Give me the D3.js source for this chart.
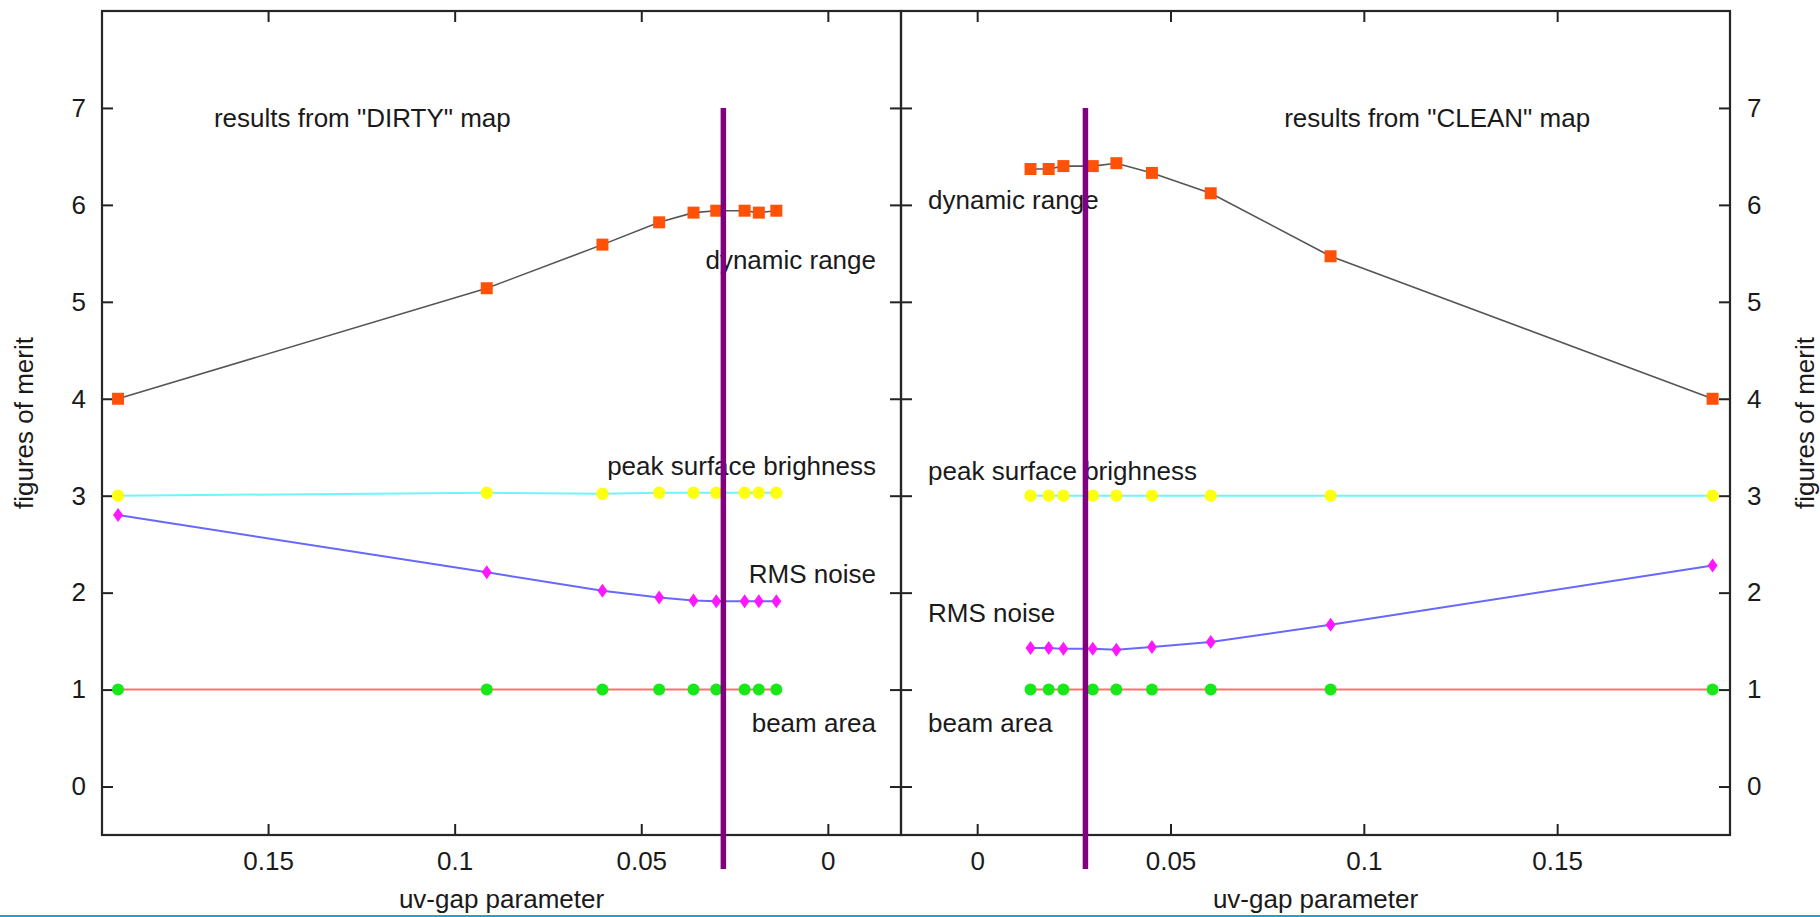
<!DOCTYPE html>
<html>
<head>
<meta charset="utf-8">
<script src="https://cdn.jsdelivr.net/npm/d3@7"></script>
<style>
  html, body { margin: 0; padding: 0; background: #fff; }
  svg { display: block; }
  text { font-family: "Liberation Sans", Arial, Helvetica, sans-serif; fill: #1a1a1a; }
</style>
</head>
<body>
<svg id="chart" width="1820" height="917"></svg>
<script>
// ---------------- data ----------------
const uvGap = [0.0138, 0.0185, 0.0223, 0.0299, 0.0360, 0.0452, 0.0604, 0.0914, 0.1902];

const dirtyDynamicRange = [5.94, 5.92, 5.94, 5.94, 5.92, 5.82, 5.59, 5.14, 4.00];
const dirtyPeakSurface  = [3.03, 3.03, 3.03, 3.03, 3.03, 3.03, 3.02, 3.03, 3.00];
const dirtyRmsNoise     = [1.91, 1.91, 1.91, 1.91, 1.92, 1.95, 2.02, 2.21, 2.80];
const dirtyBeamArea     = [1.00, 1.00, 1.00, 1.00, 1.00, 1.00, 1.00, 1.00, 1.00];

const cleanDynamicRange = [6.37, 6.37, 6.40, 6.40, 6.43, 6.33, 6.12, 5.47, 4.00];
const cleanPeakSurface  = [3.00, 3.00, 3.00, 3.00, 3.00, 3.00, 3.00, 3.00, 3.00];
const cleanRmsNoise     = [1.43, 1.43, 1.42, 1.42, 1.41, 1.44, 1.49, 1.67, 2.28];
const cleanBeamArea     = [1.00, 1.00, 1.00, 1.00, 1.00, 1.00, 1.00, 1.00, 1.00];

const xTicks = [0, 0.05, 0.1, 0.15];
const yTicks = [0, 1, 2, 3, 4, 5, 6, 7];
const yDomain = [-0.5, 8];
const cutLine = { x: 0.028, y0: 7, y1: -0.85 };

const dirtyLabels = [
  { text: 'results from "DIRTY" map', x: 0.1645, y: 6.80, anchor: "start" },
  { text: "dynamic range", x: -0.0129, y: 5.34, anchor: "end" },
  { text: "peak surface brighness", x: -0.0129, y: 3.21, anchor: "end" },
  { text: "RMS noise", x: -0.0129, y: 2.10, anchor: "end" },
  { text: "beam area", x: -0.0129, y: 0.56, anchor: "end" }
];
const cleanLabels = [
  { text: 'results from "CLEAN" map', x: 0.0794, y: 6.80, anchor: "start" },
  { text: "dynamic range", x: -0.0127, y: 5.96, anchor: "start" },
  { text: "peak surface brighness", x: -0.0127, y: 3.16, anchor: "start" },
  { text: "RMS noise", x: -0.0127, y: 1.70, anchor: "start" },
  { text: "beam area", x: -0.0127, y: 0.56, anchor: "start" }
];

// ---------------- layout ----------------
const W = 1820, H = 917;
const plotTop = 11, plotBottom = 835;
const leftX0 = 102, midX = 901, rightX1 = 1730;
const FONT = 26, TICK = 11;

const svg = d3.select("#chart");
const y = d3.scaleLinear().domain(yDomain).range([plotBottom, plotTop]);
const xDirty = d3.scaleLinear().domain([0.1945, -0.0196]).range([leftX0, midX]);
const xClean = d3.scaleLinear().domain([-0.0197, 0.1947]).range([midX, rightX1]);

const fmt = d3.format("~g");

function styleAxis(g, showLabels) {
  g.select(".domain").remove();
  g.selectAll(".tick line").attr("stroke", "#222").attr("stroke-width", 2);
  g.selectAll(".tick text")
    .style("font-size", FONT + "px")
    .style("font-family", '"Liberation Sans", Arial, sans-serif')
    .attr("fill", "#1a1a1a");
  if (!showLabels) g.selectAll(".tick text").remove();
}

function panel(x, yLabelSide) {
  const g = svg.append("g");
  const x0 = x.range()[0], x1 = x.range()[1];

  g.append("g").attr("transform", `translate(0,${plotBottom})`)
    .call(d3.axisBottom(x).tickValues(xTicks).tickFormat(fmt).tickSize(-TICK).tickPadding(16.5))
    .call(a => styleAxis(a, true));
  g.append("g").attr("transform", `translate(0,${plotTop})`)
    .call(d3.axisTop(x).tickValues(xTicks).tickSize(-TICK))
    .call(a => styleAxis(a, false));
  g.append("g").attr("transform", `translate(${x0},0)`)
    .call(d3.axisLeft(y).tickValues(yTicks).tickFormat(fmt).tickSize(-TICK).tickPadding(16))
    .call(a => styleAxis(a, yLabelSide === "left"));
  g.append("g").attr("transform", `translate(${x1},0)`)
    .call(d3.axisRight(y).tickValues(yTicks).tickFormat(fmt).tickSize(-TICK).tickPadding(17))
    .call(a => styleAxis(a, yLabelSide === "right"));

  g.append("rect")
    .attr("x", Math.min(x0, x1)).attr("y", plotTop)
    .attr("width", Math.abs(x1 - x0)).attr("height", plotBottom - plotTop)
    .attr("fill", "none").attr("stroke", "#262626").attr("stroke-width", 2.2);
  return g;
}

function drawSeries(g, x, dyn, peak, rms, beam) {
  const line = vals => d3.line().x((d, i) => x(uvGap[i])).y(d => y(d))(vals);
  g.append("path").attr("d", line(beam)).attr("fill", "none").attr("stroke", "#ff7070").attr("stroke-width", 2);
  g.append("path").attr("d", line(rms)).attr("fill", "none").attr("stroke", "#6868ff").attr("stroke-width", 2);
  g.append("path").attr("d", line(peak)).attr("fill", "none").attr("stroke", "#70f4ff").attr("stroke-width", 2);
  g.append("path").attr("d", line(dyn)).attr("fill", "none").attr("stroke", "#555").attr("stroke-width", 1.6);

  g.selectAll(null).data(beam).join("circle")
    .attr("cx", (d, i) => x(uvGap[i])).attr("cy", d => y(d)).attr("r", 6).attr("fill", "#18e818");
  g.selectAll(null).data(rms).join("path")
    .attr("transform", (d, i) => `translate(${x(uvGap[i])},${y(d)})`)
    .attr("d", "M0,-7L5,0L0,7L-5,0Z").attr("fill", "#ff18ff");
  g.selectAll(null).data(peak).join("circle")
    .attr("cx", (d, i) => x(uvGap[i])).attr("cy", d => y(d)).attr("r", 6.2).attr("fill", "#ffff10");
  g.selectAll(null).data(dyn).join("rect")
    .attr("x", (d, i) => x(uvGap[i]) - 6).attr("y", d => y(d) - 6)
    .attr("width", 12).attr("height", 12).attr("fill", "#ff5208");
}

function drawLabels(g, x, labels) {
  g.selectAll(null).data(labels).join("text")
    .attr("x", d => x(d.x)).attr("y", d => y(d.y))
    .attr("text-anchor", d => d.anchor)
    .style("font-size", FONT + "px")
    .text(d => d.text);
}

function drawCut(g, x) {
  g.append("line")
    .attr("x1", x(cutLine.x)).attr("x2", x(cutLine.x))
    .attr("y1", y(cutLine.y0)).attr("y2", y(cutLine.y1))
    .attr("stroke", "#800080").attr("stroke-width", 5.5);
}

const gL = panel(xDirty, "left");
drawSeries(gL, xDirty, dirtyDynamicRange, dirtyPeakSurface, dirtyRmsNoise, dirtyBeamArea);
drawLabels(gL, xDirty, dirtyLabels);

const gR = panel(xClean, "right");
drawSeries(gR, xClean, cleanDynamicRange, cleanPeakSurface, cleanRmsNoise, cleanBeamArea);
drawLabels(gR, xClean, cleanLabels);

drawCut(gL, xDirty);
drawCut(gR, xClean);

svg.append("text")
  .attr("transform", `translate(24,${(plotTop + plotBottom) / 2}) rotate(-90)`)
  .attr("text-anchor", "middle").attr("dy", "0.35em")
  .style("font-size", FONT + "px").text("figures of merit");
svg.append("text")
  .attr("transform", `translate(1805,${(plotTop + plotBottom) / 2}) rotate(-90)`)
  .attr("text-anchor", "middle").attr("dy", "0.35em")
  .style("font-size", FONT + "px").text("figures of merit");
svg.append("text")
  .attr("x", (leftX0 + midX) / 2).attr("y", 908)
  .attr("text-anchor", "middle").style("font-size", FONT + "px").text("uv-gap parameter");
svg.append("text")
  .attr("x", (midX + rightX1) / 2).attr("y", 908)
  .attr("text-anchor", "middle").style("font-size", FONT + "px").text("uv-gap parameter");

svg.append("line").attr("x1", 0).attr("x2", W).attr("y1", 916).attr("y2", 916)
  .attr("stroke", "#18a4d8").attr("stroke-width", 2);
</script>
</body>
</html>
